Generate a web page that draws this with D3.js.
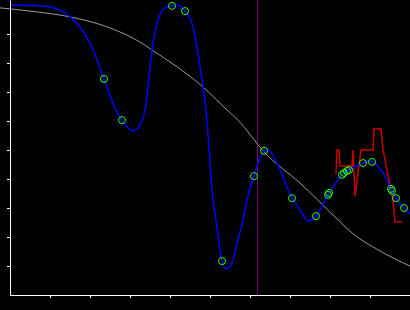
<!DOCTYPE html>
<html>
<head>
<meta charset="utf-8">
<script src="https://cdn.jsdelivr.net/npm/d3@7"></script>
<style>
  body { margin: 0; background: #000; }
  svg { display: block; }
</style>
</head>
<body>
<div id="chart"></div>
<script>
// data
let xTicks = [1, 2, 3, 4, 5, 6, 7, 8, 9];
let yTicks = [1, 2, 3, 4, 5, 6, 7, 8, 9];

let sampleX = [2.35, 2.8, 4.05, 4.375, 5.3, 6.1, 6.35, 7.05, 7.65, 7.95, 7.975, 8.3, 8.35, 8.425, 8.475, 8.825, 9.05, 9.525, 9.55, 9.65, 9.85];
let sampleY = [7.45, 6.03, 9.97, 9.79, 1.17, 4.10, 4.97, 3.34, 2.72, 3.45, 3.52, 4.14, 4.21, 4.28, 4.31, 4.55, 4.59, 3.66, 3.59, 3.34, 3.0];

let fitX = [0, 0.75, 1.25, 1.5, 1.75, 2.0, 2.35, 2.625, 2.8, 3.075, 3.25, 3.375, 3.575, 3.7, 3.875, 4.05, 4.175, 4.375, 4.575, 4.7, 4.825, 4.9, 5.075, 5.175, 5.3, 5.4, 5.525, 5.675, 5.825, 5.925, 6.1, 6.35, 6.45, 6.675, 7.05, 7.25, 7.45, 7.65, 7.95, 8.3, 8.475, 8.825, 8.95, 9.05, 9.325, 9.525, 9.65, 9.85, 10];
let fitY = [10.0, 9.97, 9.83, 9.59, 9.24, 8.69, 7.45, 6.45, 6.03, 5.66, 5.86, 6.38, 8.69, 9.48, 9.9, 9.97, 10.0, 9.79, 9.24, 8.34, 7.17, 6.38, 3.28, 2.34, 1.17, 0.9, 1.03, 1.79, 2.59, 3.28, 4.10, 4.97, 5.0, 4.55, 3.34, 2.93, 2.55, 2.72, 3.45, 4.14, 4.31, 4.55, 4.62, 4.59, 4.21, 3.66, 3.34, 3.0, 2.79];

let trendX = [-0.25, 0.5, 1.5, 2.5, 3.25, 3.55, 4.825, 5.425, 5.7, 6.375, 7.25, 8.2, 8.5, 9.25, 10];
let trendY = [9.9, 9.79, 9.59, 9.21, 8.72, 8.45, 7.17, 6.38, 6.03, 4.9, 3.86, 2.59, 2.2, 1.52, 1.0];

let stepX = [8.15, 8.175, 8.225, 8.25, 8.55, 8.575, 8.625, 8.775, 9.075, 9.1, 9.275, 9.325, 9.475, 9.575, 9.625, 9.8];
let stepY = [4.17, 5.0, 5.0, 4.45, 4.45, 5.0, 3.41, 5.0, 5.0, 5.72, 5.72, 5.0, 3.97, 3.28, 2.52, 2.52];

let markerX = [6.175];

var width = 410, height = 310;

var svg = d3.select("#chart")
  .append("svg")
  .attr("width", width)
  .attr("height", height)
  .style("background", "#000");

var x = d3.scaleLinear().domain([0, 10]).range([10, 410]);
var y = d3.scaleLinear().domain([0, 295 / 29]).range([295, 0]);

let pts = (xs, ys) => xs.map((d, i) => [d, ys[i]]);

let line = d3.line()
  .x(d => x(d[0]))
  .y(d => y(d[1]));

// vertical marker
svg.selectAll(".marker")
  .data(markerX)
  .enter().append("line")
  .attr("x1", d => Math.round(x(d)) + 0.5)
  .attr("x2", d => Math.round(x(d)) + 0.5)
  .attr("y1", y.range()[1])
  .attr("y2", y.range()[0])
  .style("stroke", "#800080")
  .style("stroke-width", 1);

// smooth trend
svg.append("path")
  .datum(pts(trendX, trendY))
  .attr("d", line.curve(d3.curveMonotoneX))
  .style("fill", "none")
  .style("stroke", "#999")
  .style("stroke-width", 1);

// step-ish red line
svg.append("path")
  .datum(pts(stepX, stepY))
  .attr("d", line.curve(d3.curveLinear))
  .style("fill", "none")
  .style("stroke", "#c00")
  .style("stroke-width", 1.5);

// blue fit
svg.append("path")
  .datum(pts(fitX, fitY))
  .attr("d", line.curve(d3.curveMonotoneX))
  .style("fill", "none")
  .style("stroke", "#00f")
  .style("stroke-width", 1.5);

// samples
svg.selectAll(".sample")
  .data(pts(sampleX, sampleY))
  .enter().append("circle")
  .attr("cx", d => x(d[0]))
  .attr("cy", d => y(d[1]))
  .attr("r", 3.5)
  .style("fill", "none")
  .style("stroke", "#2f2")
  .style("stroke-width", 1);

// axes
var xAxis = svg.append("g")
  .attr("transform", "translate(0,295)")
  .call(d3.axisBottom(x).tickValues(xTicks).tickSize(3).tickSizeOuter(0).tickFormat(""));

var yAxis = svg.append("g")
  .attr("transform", "translate(10,0)")
  .call(d3.axisLeft(y).tickValues(yTicks).tickSize(3).tickSizeOuter(0).tickFormat(""));

svg.selectAll(".domain, .tick line")
  .style("stroke", "#fff")
  .style("stroke-width", 1);
</script>
</body>
</html>
